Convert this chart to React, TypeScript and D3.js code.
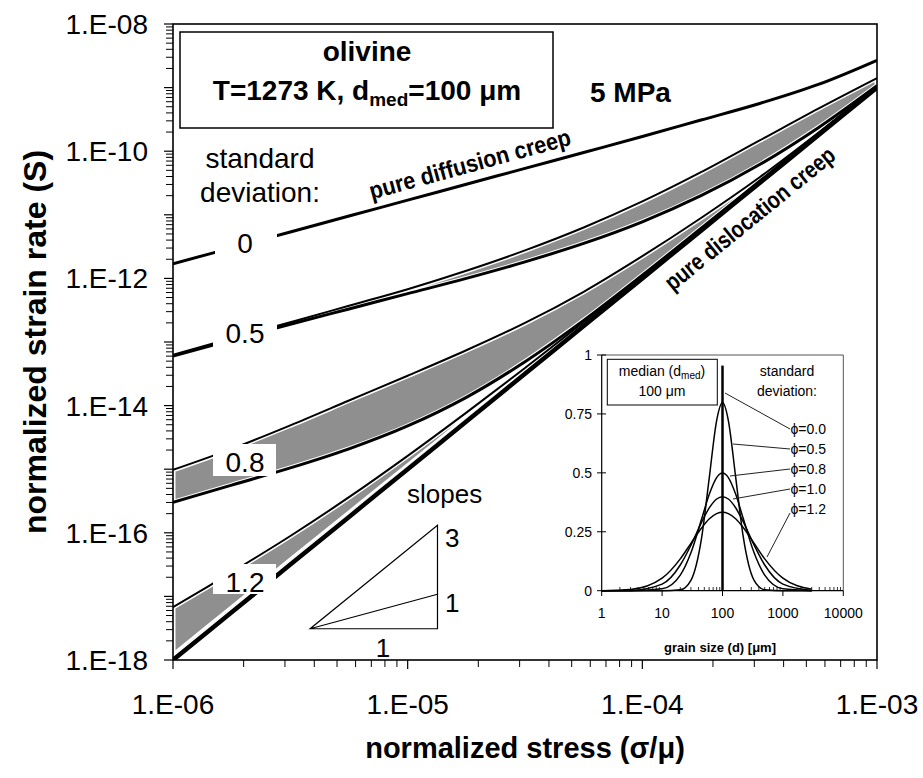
import React from "react";
import * as d3 from "d3";

const FONT = "'Liberation Sans', Arial, Helvetica, sans-serif";

// ---- main chart data (log10 values) ----
const logStress = [-6, -5.75, -5.5, -5.25, -5, -4.75, -4.5, -4.25, -4, -3.75, -3.5, -3.25, -3];
const logRateSd0 = [-11.77, -11.52, -11.27, -11.02, -10.77, -10.52, -10.27, -10.02, -9.77, -9.51, -9.25, -8.95, -8.57];
const logRateDisl = [-18, -17.25, -16.5, -15.75, -15, -14.25, -13.5, -12.75, -12, -11.25, -10.5, -9.75, -9];
const logRateSd05Up = [-13.2, -12.94, -12.69, -12.43, -12.17, -11.88, -11.56, -11.2, -10.79, -10.33, -9.83, -9.33, -8.85];
const logRateSd05Lo = [-13.22, -12.97, -12.72, -12.48, -12.24, -12.0, -11.74, -11.45, -11.11, -10.7, -10.21, -9.63, -8.97];
const logRateSd08Up = [-15.01, -14.68, -14.31, -13.92, -13.53, -13.13, -12.7, -12.21, -11.65, -11.05, -10.41, -9.71, -8.98];
const logRateSd08Lo = [-15.52, -15.25, -14.98, -14.68, -14.32, -13.87, -13.31, -12.66, -11.95, -11.215, -10.472, -9.728, -8.982];
const logRateSd12Up = [-17.17, -16.62, -16.05, -15.44, -14.79, -14.11, -13.41, -12.69, -11.96, -11.22, -10.478, -9.734, -8.988];
const logRateSd12Lo = [-17.93, -17.18, -16.43, -15.69, -14.95, -14.2, -13.46, -12.72, -11.98, -11.235, -10.49, -9.742, -8.995];

const yTickExps = [-18, -17, -16, -15, -14, -13, -12, -11, -10, -9, -8];
const yLabelExps = [-18, -16, -14, -12, -10, -8];
const xTickExps = [-6, -5, -4, -3];

// slope triangle (stress range, base strain rate, slopes)
const slopeStress = [3.84e-6, 1.34e-5];
const slopeBaseRate = 3.1e-18;
const slopeValues = [3, 1];

// ---- inset data ----
const grainSize = [1, 3, 10, 20, 30, 45, 60, 80, 100, 125, 165, 220, 330, 500, 1000, 3000];
const freqPhi05 = [0, 0, 0, 0.004, 0.044, 0.223, 0.473, 0.722, 0.798, 0.722, 0.483, 0.23, 0.046, 0.004, 0, 0];
const freqPhi08 = [0, 0, 0.008, 0.066, 0.161, 0.303, 0.407, 0.48, 0.499, 0.48, 0.41, 0.307, 0.164, 0.066, 0.008, 0];
const freqPhi10 = [0, 0.001, 0.028, 0.109, 0.193, 0.29, 0.35, 0.389, 0.399, 0.389, 0.352, 0.293, 0.196, 0.109, 0.028, 0.001];
const freqPhi12 = [0, 0.005, 0.053, 0.135, 0.201, 0.266, 0.304, 0.327, 0.333, 0.327, 0.305, 0.268, 0.203, 0.135, 0.053, 0.006];
const medianGrain = 100;
const phi0Height = 0.955;
const insetYTicks = [0, 0.25, 0.5, 0.75, 1];
const insetYLabels = ["0", "0.25", "0.5", "0.75", "1"];
const insetXTicks = [1, 10, 100, 1000, 10000];
const phiLabels = ["ϕ=0.0", "ϕ=0.5", "ϕ=0.8", "ϕ=1.0", "ϕ=1.2"];

export default function App() {
  const x = d3.scaleLog().domain([1e-6, 1e-3]).range([173, 877]);
  const y = d3.scaleLog().domain([1e-18, 1e-8]).range([660, 24]);

  const smooth = d3.curveCatmullRom.alpha(0.5);
  const curve = (arr: number[]) =>
    d3
      .line<number>()
      .x((_, i) => x(10 ** logStress[i]))
      .y((v) => y(10 ** v))
      .curve(smooth)(arr) as string;
  const area = (up: number[], lo: number[]) =>
    d3
      .area<number>()
      .x((_, i) => x(10 ** logStress[i]))
      .y0((_, i) => y(10 ** lo[i]))
      .y1((_, i) => y(10 ** up[i]))
      .curve(smooth)(logStress) as string;

  const bands = [
    { id: "b12", up: logRateSd12Up, lo: logRateSd12Lo },
    { id: "b08", up: logRateSd08Up, lo: logRateSd08Lo },
    { id: "b05", up: logRateSd05Up, lo: logRateSd05Lo },
  ];

  const yMinor: number[] = [];
  for (let e = -18; e < -8; e++) for (let k = 2; k <= 9; k++) yMinor.push(k * 10 ** e);
  const xMinor: number[] = [];
  for (let e = -6; e < -3; e++) for (let k = 2; k <= 9; k++) xMinor.push(k * 10 ** e);

  // inset scales
  const xi = d3.scaleLog().domain([1, 10000]).range([601.7, 843.3]);
  const yi = d3.scaleLinear().domain([0, 1]).range([590.7, 355]);
  const icurve = (arr: number[]) =>
    d3
      .line<number>()
      .x((_, i) => xi(grainSize[i]))
      .y((v) => yi(v))
      .curve(d3.curveMonotoneX)(arr) as string;
  const xiMinor: number[] = [];
  for (let e = 0; e < 4; e++) for (let k = 2; k <= 9; k++) xiMinor.push(k * 10 ** e);

  const triX0 = x(slopeStress[0]);
  const triX1 = x(slopeStress[1]);
  const triY0 = y(slopeBaseRate);
  const ratio = slopeStress[1] / slopeStress[0];
  const triY3 = y(slopeBaseRate * ratio ** slopeValues[0]);
  const triY1 = y(slopeBaseRate * ratio ** slopeValues[1]);

  const leaders = [
    [725, 393, 790, 429],
    [733, 444, 790, 449],
    [730, 476, 790, 469],
    [733, 499, 790, 489],
    [767, 557, 790, 513],
  ];

  return (
    <svg
      width={923}
      height={778}
      viewBox="0 0 923 778"
      style={{ position: "absolute", left: 0, top: 0, background: "#fff" }}
      fontFamily={FONT}
    >
      <rect x={0} y={0} width={923} height={778} fill="#fff" />
      <defs>
        <clipPath id="plotClip">
          <rect x={173} y={24} width={704} height={636} />
        </clipPath>
        {bands.map((b) => (
          <clipPath id={`clip-${b.id}`} key={b.id}>
            <path d={area(b.up, b.lo)} />
          </clipPath>
        ))}
      </defs>

      <g clipPath="url(#plotClip)">
        {bands.map((b) => (
          <path
            key={b.id}
            d={area(b.up, b.lo)}
            fill="#8f8f8f"
            stroke="#fff"
            strokeWidth={5}
            clipPath={`url(#clip-${b.id})`}
          />
        ))}
        <path d={curve(logRateSd12Up)} fill="none" stroke="#000" strokeWidth={2} />
        <path d={curve(logRateSd08Up)} fill="none" stroke="#000" strokeWidth={2} />
        <path d={curve(logRateSd08Lo)} fill="none" stroke="#000" strokeWidth={3} />
        <path d={curve(logRateSd05Up)} fill="none" stroke="#000" strokeWidth={2} />
        <path d={curve(logRateSd05Lo)} fill="none" stroke="#000" strokeWidth={3} />
        <path d={curve(logRateSd0)} fill="none" stroke="#000" strokeWidth={3} />
        <path d={curve(logRateDisl)} fill="none" stroke="#000" strokeWidth={4.5} />
      </g>

      {/* white label patches */}
      <rect x={215} y={226} width={62} height={36} fill="#fff" />
      <rect x={213} y={316} width={64} height={36} fill="#fff" />
      <rect x={213} y={444} width={63} height={32} fill="#fff" />
      <rect x={213} y={564} width={63} height={30} fill="#fff" />

      {/* frame */}
      <rect x={173} y={24} width={704} height={636} fill="none" stroke="#000" strokeWidth={1.6} />

      {/* y ticks */}
      {yTickExps.map((e) => (
        <line key={e} x1={164} x2={173} y1={y(10 ** e)} y2={y(10 ** e)} stroke="#000" strokeWidth={1.2} />
      ))}
      {yMinor.map((v, i) => (
        <line key={i} x1={166} x2={173} y1={y(v)} y2={y(v)} stroke="#000" strokeWidth={1} />
      ))}
      {yLabelExps.map((e) => (
        <text key={e} x={148} y={y(10 ** e) + 10} textAnchor="end" fontSize={28}>
          {`1.E-${String(-e).padStart(2, "0")}`}
        </text>
      ))}

      {/* x ticks */}
      {xTickExps.map((e) => (
        <line key={e} x1={x(10 ** e)} x2={x(10 ** e)} y1={660} y2={669} stroke="#000" strokeWidth={1.2} />
      ))}
      {xMinor.map((v, i) => (
        <line key={i} x1={x(v)} x2={x(v)} y1={660} y2={667} stroke="#000" strokeWidth={1} />
      ))}
      {xTickExps.map((e) => (
        <text key={e} x={x(10 ** e)} y={714} textAnchor="middle" fontSize={28}>
          {`1.E-${String(-e).padStart(2, "0")}`}
        </text>
      ))}

      {/* axis titles */}
      <text x={525} y={758} textAnchor="middle" fontSize={29} fontWeight="bold">
        normalized stress (σ/μ)
      </text>
      <text transform="translate(46,342) rotate(-90)" textAnchor="middle" fontSize={32} fontWeight="bold">
        normalized strain rate (S)
      </text>

      {/* title box */}
      <rect x={180} y={32} width={373} height={96} fill="#fff" stroke="#000" strokeWidth={1.5} />
      <text x={367} y={61} textAnchor="middle" fontSize={28} fontWeight="bold">
        olivine
      </text>
      <text x={367} y={100} textAnchor="middle" fontSize={28} fontWeight="bold">
        T=1273 K, d<tspan fontSize={19} dy={6}>med</tspan>
        <tspan dy={-6}>=100 μm</tspan>
      </text>
      <text x={590} y={102} fontSize={28} fontWeight="bold">
        5 MPa
      </text>

      {/* standard deviation labels */}
      <text x={260} y={168} textAnchor="middle" fontSize={28}>
        standard
      </text>
      <text x={260} y={202} textAnchor="middle" fontSize={28}>
        deviation:
      </text>
      <text x={245} y={253} textAnchor="middle" fontSize={28}>0</text>
      <text x={245} y={343} textAnchor="middle" fontSize={28}>0.5</text>
      <text x={245} y={472} textAnchor="middle" fontSize={28}>0.8</text>
      <text x={245} y={592} textAnchor="middle" fontSize={28}>1.2</text>

      {/* curve annotations */}
      <text
        transform="translate(472,172) rotate(-15.3)"
        textAnchor="middle"
        fontSize={24}
        fontWeight="bold"
        textLength={208}
        lengthAdjust="spacingAndGlyphs"
      >
        pure diffusion creep
      </text>
      <text
        transform="translate(755,225) rotate(-39.1)"
        textAnchor="middle"
        fontSize={24}
        fontWeight="bold"
        textLength={212}
        lengthAdjust="spacingAndGlyphs"
      >
        pure dislocation creep
      </text>

      {/* slopes triangle */}
      <text x={407} y={503} fontSize={26}>slopes</text>
      <path
        d={`M${triX0},${triY0} L${triX1},${triY0} L${triX1},${triY3} Z M${triX0},${triY0} L${triX1},${triY1}`}
        fill="none"
        stroke="#000"
        strokeWidth={1.2}
      />
      <text x={445} y={547} fontSize={26}>{slopeValues[0]}</text>
      <text x={445} y={612} fontSize={26}>{slopeValues[1]}</text>
      <text x={383} y={657} textAnchor="middle" fontSize={26}>1</text>

      {/* ---- inset ---- */}
      <g>
        <line x1={601.7} x2={843.3} y1={355} y2={355} stroke="#555" strokeWidth={1} />
        <line x1={843.3} x2={843.3} y1={355} y2={590.7} stroke="#555" strokeWidth={1} />
        <line x1={601.7} x2={601.7} y1={355} y2={590.7} stroke="#000" strokeWidth={1.2} />
        <line x1={601.7} x2={843.3} y1={590.7} y2={590.7} stroke="#000" strokeWidth={1.2} />
        {insetYTicks.map((v, i) => (
          <g key={v}>
            <line x1={597} x2={606} y1={yi(v)} y2={yi(v)} stroke="#000" strokeWidth={1} />
            <text x={592} y={yi(v) + 5} textAnchor="end" fontSize={14}>
              {insetYLabels[i]}
            </text>
          </g>
        ))}
        {insetXTicks.map((v) => (
          <g key={v}>
            <line x1={xi(v)} x2={xi(v)} y1={590.7} y2={596} stroke="#000" strokeWidth={1} />
            <text x={xi(v)} y={618} textAnchor="middle" fontSize={14}>
              {v}
            </text>
          </g>
        ))}
        {xiMinor.map((v, i) => (
          <line key={i} x1={xi(v)} x2={xi(v)} y1={590.7} y2={587} stroke="#000" strokeWidth={0.8} />
        ))}
        <text x={720} y={652} textAnchor="middle" fontSize={13} fontWeight="bold">
          grain size (d) [μm]
        </text>

        {[freqPhi05, freqPhi08, freqPhi10, freqPhi12].map((f, i) => (
          <path key={i} d={icurve(f)} fill="none" stroke="#000" strokeWidth={1.5} />
        ))}
        <line
          x1={xi(medianGrain)}
          x2={xi(medianGrain)}
          y1={yi(0)}
          y2={yi(phi0Height)}
          stroke="#000"
          strokeWidth={2.5}
        />

        {leaders.map((l, i) => (
          <line key={i} x1={l[0]} y1={l[1]} x2={l[2]} y2={l[3]} stroke="#222" strokeWidth={1} />
        ))}
        {phiLabels.map((t, i) => (
          <text key={t} x={790.5} y={434 + i * 20} fontSize={14}>
            {t}
          </text>
        ))}

        <rect x={607.3} y={359.3} width={110} height={45.7} fill="#fff" stroke="#000" strokeWidth={1} />
        <text x={662} y={376} textAnchor="middle" fontSize={14}>
          median (d<tspan fontSize={10} dy={3}>med</tspan>
          <tspan dy={-3}>)</tspan>
        </text>
        <text x={662} y={396} textAnchor="middle" fontSize={14}>
          100 μm
        </text>
        <text x={787} y={376} textAnchor="middle" fontSize={14}>
          standard
        </text>
        <text x={787} y={396} textAnchor="middle" fontSize={14}>
          deviation:
        </text>
      </g>
    </svg>
  );
}
